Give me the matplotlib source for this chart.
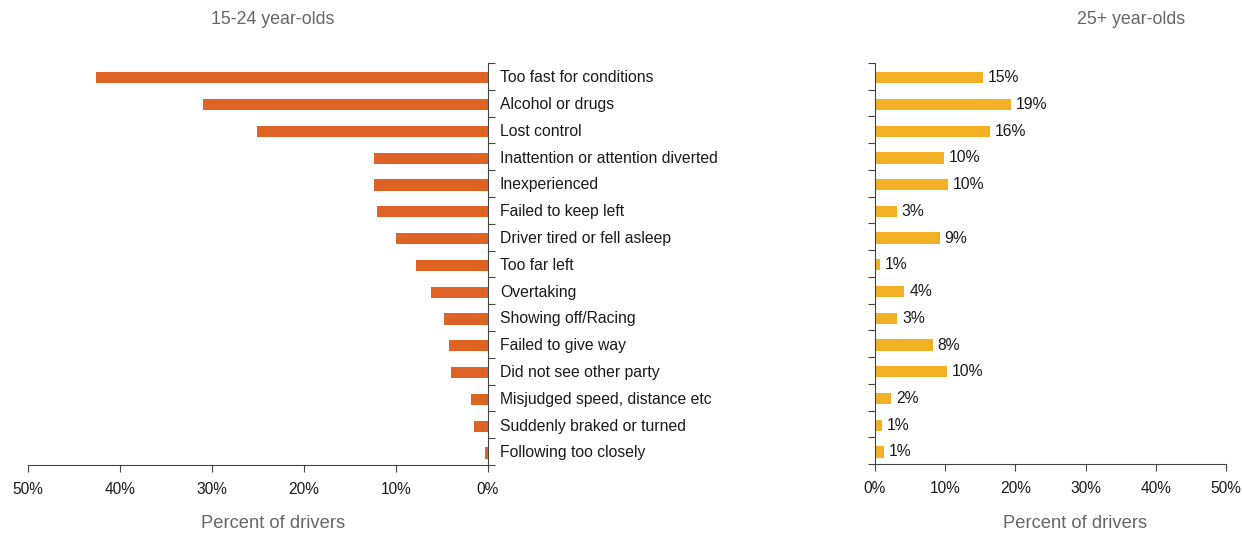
import matplotlib.pyplot as plt
import numpy as np

plt.rcParams['font.family'] = ['Liberation Sans', 'DejaVu Sans']

# Crash factors, in drawing order (top to bottom)
factors = [
    "Too fast for conditions", "Alcohol or drugs", "Lost control",
    "Inattention or attention diverted", "Inexperienced", "Failed to keep left",
    "Driver tired or fell asleep", "Too far left", "Overtaking",
    "Showing off/Racing", "Failed to give way", "Did not see other party",
    "Misjudged speed, distance etc", "Suddenly braked or turned",
    "Following too closely",
]
young = [42.6, 31.0, 25.1, 12.4, 12.4, 12.1, 10.0, 7.8, 6.2, 4.8, 4.2, 4.0, 1.8, 1.5, 0.3]
older = [15.4, 19.4, 16.4, 9.8, 10.4, 3.1, 9.2, 0.7, 4.2, 3.2, 8.2, 10.3, 2.3, 1.0, 1.3]

ORANGE = "#E06326"
YELLOW = "#F2B124"
GREY = "#666666"
TXT = "#1a1a1a"

W, H = 1242, 534
fig = plt.figure(figsize=(W / 100, H / 100), dpi=100)

ax_l = fig.add_axes([28 / W, 69 / H, 460 / W, 402 / H])
ax_r = fig.add_axes([875 / W, 70 / H, 351 / W, 401 / H])

y = np.arange(len(factors))
edges = np.arange(len(factors) + 1) - 0.5

ax_l.barh(y + 0.05, young, height=0.42, color=ORANGE)
ax_l.set_xlim(50, 0)
ax_l.set_ylim(len(factors) - 0.5, -0.5)
ax_l.yaxis.tick_right()
ax_l.set_yticks(edges)
ax_l.set_yticklabels([])
ax_l.tick_params(axis='y', direction='out', length=5, color="#444444")
for yi, name in zip(y, factors):
    ax_l.text(1.026, yi + 0.05, name, transform=ax_l.get_yaxis_transform(),
              ha='left', va='center', fontsize=11.3, color=TXT)
for s in ['top', 'left']:
    ax_l.spines[s].set_visible(False)

ax_r.barh(y + 0.05, older, height=0.42, color=YELLOW)
ax_r.set_xlim(0, 50)
ax_r.set_ylim(len(factors) - 0.5, -0.5)
ax_r.set_yticks(edges)
ax_r.set_yticklabels([])
ax_r.tick_params(axis='y', direction='out', length=5, color="#444444")
for yi, v in zip(y, older):
    ax_r.text(v + 0.7, yi + 0.05, f"{round(v)}%", ha='left', va='center',
              fontsize=11.3, color=TXT)
for s in ['top', 'right']:
    ax_r.spines[s].set_visible(False)

for ax in (ax_l, ax_r):
    ax.set_xticks(np.arange(0, 51, 10))
    ax.set_xticklabels([f"{t}%" for t in range(0, 51, 10)])
    ax.tick_params(axis='x', direction='out', length=5, labelsize=11.2,
                   labelcolor=TXT, color="#444444", pad=7)
    for s in ax.spines.values():
        s.set_color("#444444")

fig.text(273 / W, 1 - 20 / H, "15-24 year-olds", ha='center', va='center',
         fontsize=12.8, color=GREY)
fig.text(1131 / W, 1 - 20 / H, "25+ year-olds", ha='center', va='center',
         fontsize=12.8, color=GREY)
fig.text(273 / W, 1 - 523 / H, "Percent of drivers", ha='center', va='center',
         fontsize=13.2, color=GREY)
fig.text(1075 / W, 1 - 523 / H, "Percent of drivers", ha='center', va='center',
         fontsize=13.2, color=GREY)

fig.savefig("out.png", dpi=100)
